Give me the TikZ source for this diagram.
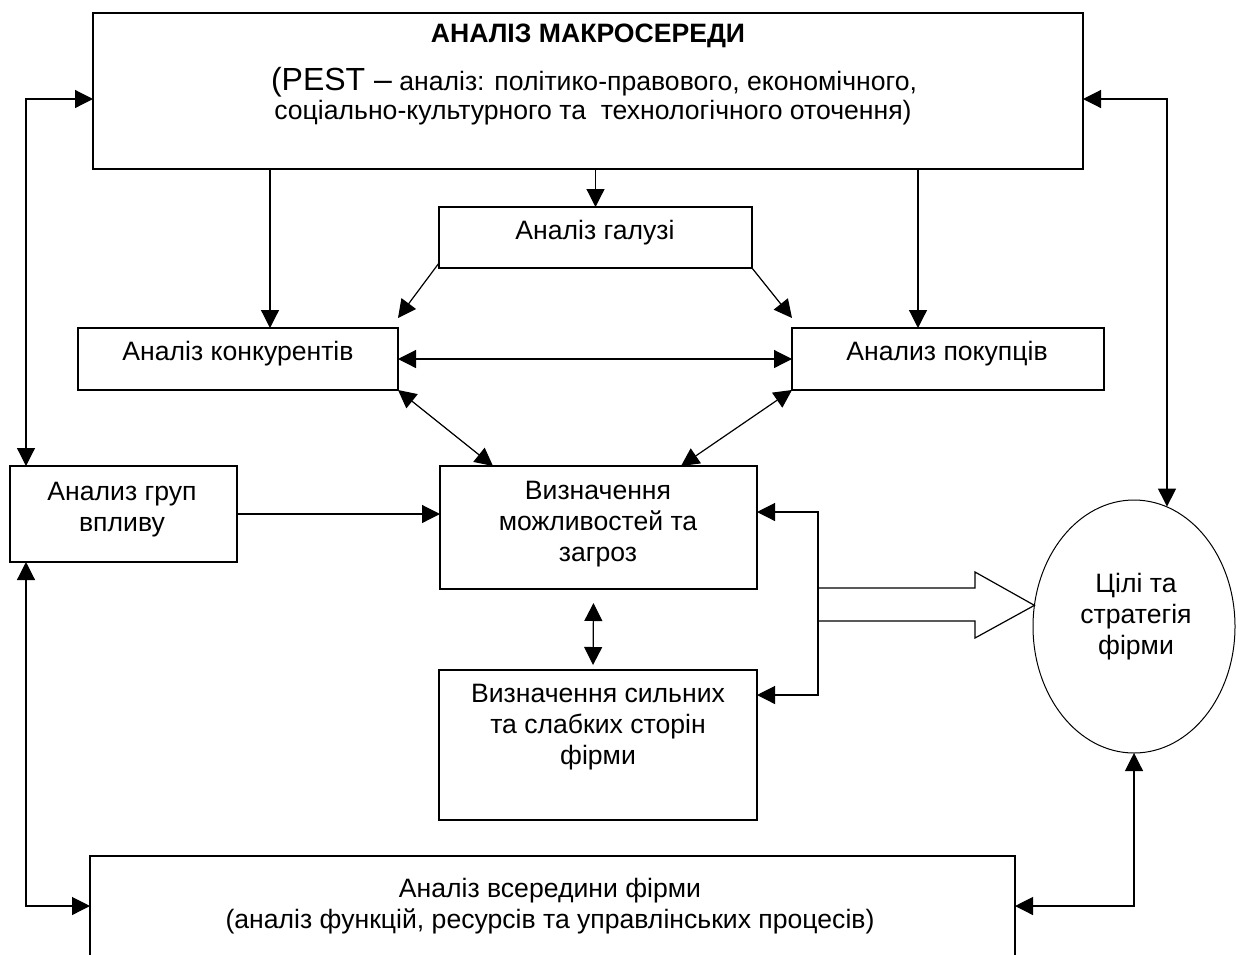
\documentclass[tikz,border=0pt]{standalone}
\usepackage{fontspec}
\setmainfont{Liberation Sans}
\usetikzlibrary{arrows.meta,shapes.geometric}
\begin{document}
\begin{tikzpicture}[x=1pt,y=-1pt,
  every node/.style={inner sep=0pt, outer sep=0pt},
  box/.style={draw, line width=1.2pt, rectangle, inner sep=0pt},
  txt/.style={font=\fontsize{26.6}{31}\selectfont, align=center},
  ln/.style={line width=1.2pt},
  arr/.style={line width=1.2pt, -{Triangle[length=18pt,width=18pt]}},
  darr/.style={line width=1.2pt, {Triangle[length=18pt,width=18pt]}-{Triangle[length=18pt,width=18pt]}}]
\useasboundingbox (0,0) rectangle (1236,954);

% boxes
\node[box, minimum width=990pt, minimum height=156pt] (macro) at (588,91) {};
\node[box, minimum width=313pt, minimum height=61pt] (ind) at (595.5,237.5) {};
\node[box, minimum width=320pt, minimum height=62pt] (comp) at (238,359) {};
\node[box, minimum width=312pt, minimum height=62pt] (buy) at (948,359) {};
\node[box, minimum width=227pt, minimum height=96pt] (grp) at (123.5,514) {};
\node[box, minimum width=317pt, minimum height=123pt] (opp) at (598.5,527.5) {};
\node[box, minimum width=318pt, minimum height=150pt] (str) at (598,745) {};
\node[draw, line width=1pt, ellipse, minimum width=202pt, minimum height=253pt] (goal) at (1134,626.5) {};
\node[minimum width=925pt, minimum height=140pt] (inner) at (552.5,926) {};
\draw[ln] (inner.west |- 0,962) -- (inner.north west) -- (inner.north east) -- (inner.east |- 0,962);

% texts
\node[txt, font=\bfseries\fontsize{26.6}{31}\selectfont] (macroT) at (588,36) {АНАЛІЗ МАКРОСЕРЕДИ};
\node[txt] (macroL2) at (594,82) {{\fontsize{32}{31}\selectfont (PEST –} аналіз: політико-правового, економічного,};
\node[txt] (macroL3) at (593,113) {соціально-культурного та\ \ технологічного оточення)};
\node[txt] (indT) at (595,233) {Аналіз галузі};
\node[txt] (compT) at (238,354) {Аналіз конкурентів};
\node[txt] (buyT) at (947,354) {Анализ покупців};
\node[txt] (grpT) at (122,510) {Анализ груп\\впливу};
\node[txt] (oppT) at (598,524) {Визначення\\можливостей та\\загроз};
\node[txt] (strT) at (598,727) {Визначення сильних\\та слабких сторін\\фірми};
\node[txt] (goalT) at (1136,617) {Цілі та\\стратегія\\фірми};
\node[txt] (innerT) at (550,906) {Аналіз всередини фірми\\(аналіз функцій, ресурсів та управлінських процесів)};

% helper coordinates
\coordinate (cTL) at (26,99);
\coordinate (cTR) at (1167,99);
\coordinate (cBL) at (26,906);
\coordinate (cBR) at (1134,906);
\coordinate (br1) at (818,512);
\coordinate (br2) at (818,695);

% connectors
\draw[darr] (cTL |- grp.north) -- (cTL) -- (cTL -| macro.west);
\draw[darr] (cTR -| macro.east) -- (cTR) -- (cTR |- goal.75);
\draw[arr] (ind.north |- macro.south) -- (ind.north);
\draw[arr] ([xshift=32pt]comp.north |- macro.south) -- ([xshift=32pt]comp.north);
\draw[arr] ([xshift=-30pt]buy.north |- macro.south) -- ([xshift=-30pt]buy.north);
\draw[arr] ([yshift=5pt]ind.south west) -- ([yshift=10pt]comp.north east);
\draw[arr] (ind.south east) -- ([yshift=10pt]buy.north west);
\draw[darr] (comp.east) -- (buy.west);
\draw[darr] (comp.south east) -- ([xshift=53pt]opp.north west);
\draw[darr] (buy.south west) -- ([xshift=-76pt]opp.north east);
\draw[arr] (grp.east) -- (grp.east -| opp.west);
\draw[darr] ([xshift=-5pt,yshift=-14pt]opp.south) -- ([xshift=-5pt,yshift=5pt]str.north);
\draw[darr] (br1 -| opp.east) -- (br1) -- (br2) -- (br2 -| str.east);
\draw[ln, line join=miter] (818,588) -- (975,588) -- (975,572) -- (goal.168) -- (975,638) -- (975,621) -- (818,621);
\draw[darr] (cBL |- grp.south) -- (cBL) -- (cBL -| inner.west);
\draw[darr] (goal.south) -- (cBR) -- (cBR -| inner.east);
\end{tikzpicture}
\end{document}
